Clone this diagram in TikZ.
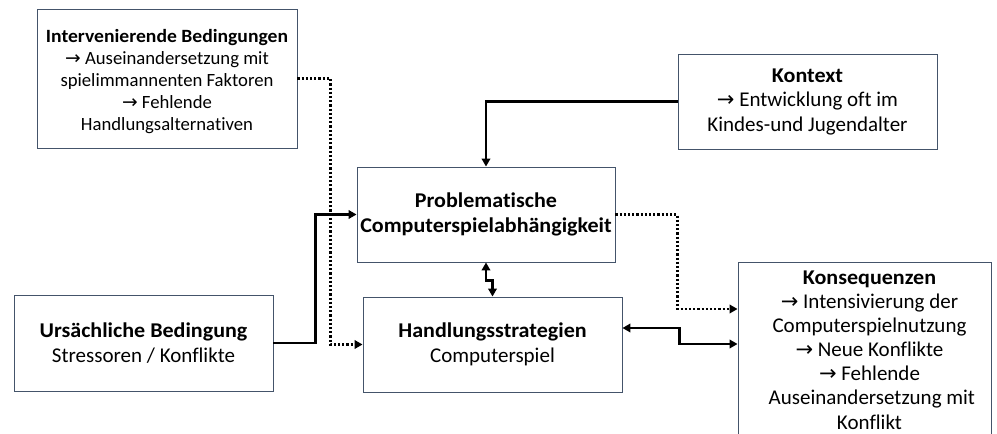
\documentclass[tikz,border=0pt]{standalone}
\usepackage{fontspec}
\setmainfont{Carlito}[Ligatures={NoCommon}, BoldFeatures={FakeStretch=1.05}]
\newfontfamily\arrfont{DejaVu Sans}
\newcommand{\ra}{{\arrfont →}}
\usetikzlibrary{arrows.meta}
\definecolor{boxline}{HTML}{44546A}
\tikzset{
  box/.style={draw=boxline, line width=0.9pt, fill=white, inner sep=0pt, align=center,
    font=\fontsize{21}{24.5}\selectfont},
  conn/.style={line width=2.2pt, draw=black},
  dotconn/.style={line width=2.2pt, draw=black, dash pattern=on 2.2pt off 2pt},
  tip/.style={-{Triangle[length=8pt,width=8.5pt]}},
  tips/.style={{Triangle[length=8pt,width=8.5pt]}-{Triangle[length=8pt,width=8.5pt]}}
}
\begin{document}
\begin{tikzpicture}[x=1pt,y=-1pt]
\useasboundingbox (0,0) rectangle (997,434);
\clip (0,0) rectangle (997,434);
\fill[white] (0,0) rectangle (997,434);

\node[box, minimum width=260pt, minimum height=139pt] (interv) at (167,78.5) {};
\node[align=center, inner sep=0pt, font=\fontsize{18.7}{22}\selectfont] (intervtxt) at (167,81.5)
  {\textbf{Intervenierende Bedingungen}\\ \ra{} Auseinandersetzung mit\\ spielimmannenten Faktoren\\ \ra{} Fehlende\\ Handlungsalternativen};
\node[box, minimum width=258pt, minimum height=95pt] (prob) at (486,214.5)
  {\textbf{Problematische}\\ \textbf{Computerspielabhängigkeit}};
\node[box, minimum width=259pt, minimum height=95pt] (kontext) at (807.5,101.5)
  {\textbf{Kontext}\\ \ra{} Entwicklung oft im\\ Kindes-und Jugendalter};
\node[box, minimum width=259pt, minimum height=96pt] (ursa) at (143.5,343)
  {\textbf{Ursächliche Bedingung}\\ Stressoren / Konflikte};
\node[box, minimum width=259pt, minimum height=95pt] (handl) at (492.5,344.5)
  {\textbf{Handlungsstrategien}\\ Computerspiel};
\node[box, minimum width=253pt, minimum height=179pt] (konseq) at (864.5,351.5) {};
\node[align=center, inner sep=0pt, font=\fontsize{21}{24.1}\selectfont] (konseqtxt) at (869.5,350)
  {\textbf{Konsequenzen}\\ \ra{} Intensivierung der\\ Computerspielnutzung\\ \ra{} Neue Konflikte\\ \ra{} Fehlende\\ \ Auseinandersetzung mit\\ Konflikt};

% connectors
\draw[conn, tip] (kontext.west) -| (prob.north);
\draw[conn, tip] (ursa.east) -- ++(42,0) |- (prob.west);
\draw[dotconn, tip] (interv.east) -- ++(33,0) |- (handl.west);
\draw[dotconn, tip] (prob.east) -- ++(62,0) |- (konseq.west |- 0,309);
\draw[conn, tips] (handl.east |- 0,328) -- ++(57,0) |- (konseq.west |- 0,344);
\draw[conn, tips] (prob.south) -- ++(0,18) -| (handl.north);
\end{tikzpicture}
\end{document}
